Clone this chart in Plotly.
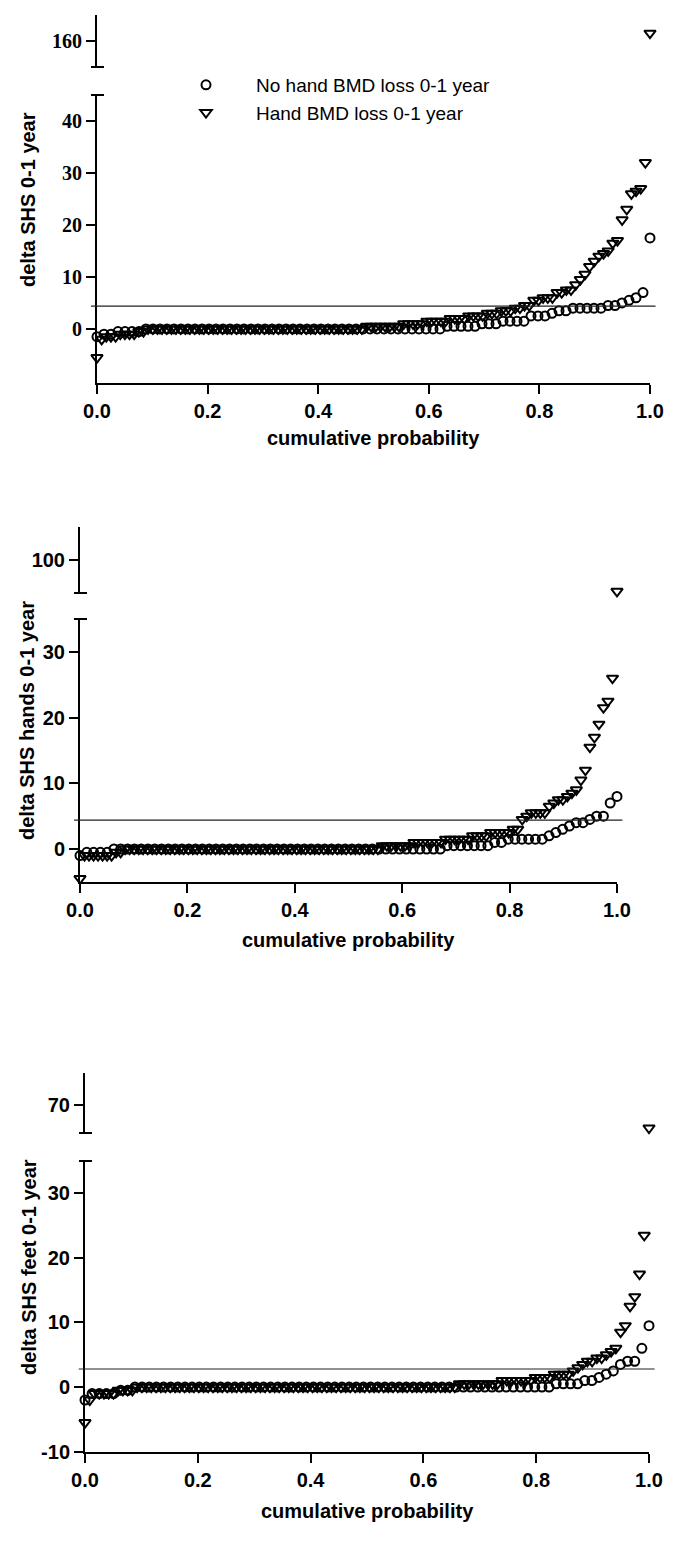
import plotly.graph_objects as go

# ---------------- data ----------------
prob_ticks = [0.0, 0.2, 0.4, 0.6, 0.8, 1.0]
prob_tick_labels = ["0.0", "0.2", "0.4", "0.6", "0.8", "1.0"]

series_names = ["No hand BMD loss 0-1 year", "Hand BMD loss 0-1 year"]

# Panel A: delta SHS 0-1 year (sorted values with their number of patients)
total_noloss_values = [-1.5, -1, -0.5, 0, 0.5, 1, 1.5, 2.5, 3, 3.5, 4, 4.5, 5, 5.5, 6, 7, 17.5]
total_noloss_counts = [1, 2, 4, 43, 5, 3, 4, 3, 1, 2, 5, 2, 1, 1, 1, 1, 1]
total_loss_values = [-5.5, -2, -1.5, -1, -0.5, 0, 0.5, 1, 1.5, 2, 2.5, 3, 3.5, 4, 4.5, 5.5, 6, 7, 7.5,
                     8.5, 9.5, 10.5, 12, 13, 14, 14.5, 15, 16.5, 17, 21, 23, 26, 26.5, 27, 32, 163]
total_loss_counts = [1, 1, 3, 4, 2, 47, 8, 5, 5, 4, 4, 3, 3, 2, 2, 2, 3, 2, 2,
                     1, 1, 1, 1, 1, 1, 1, 1, 1, 1, 1, 1, 1, 1, 1, 1, 1]
total_sdc = [4.4]

# Panel B: delta SHS hands 0-1 year
hands_noloss_values = [-1, -0.5, 0, 0.5, 1, 1.5, 2, 2.5, 3, 3.5, 4, 4.5, 5, 7, 8]
hands_noloss_counts = [1, 4, 49, 7, 2, 6, 1, 1, 1, 1, 2, 1, 2, 1, 1]
hands_loss_values = [-4.5, -1, -0.5, 0, 0.5, 1, 1.5, 2, 2.5, 3, 4.5, 5, 5.5, 6.5, 7, 7.5,
                     8, 8.5, 9, 10.5, 12, 15.5, 17, 19, 21.5, 22.5, 26, 81]
hands_loss_counts = [1, 7, 2, 57, 7, 7, 6, 4, 5, 2, 1, 1, 4, 1, 1, 2,
                     1, 1, 1, 1, 1, 1, 1, 1, 1, 1, 1, 1]
hands_sdc = [4.4]

# Panel C: delta SHS feet 0-1 year
feet_noloss_values = [-2, -1, -0.5, 0, 0.5, 1, 1.5, 2, 2.5, 3.5, 4, 6, 9.5]
feet_noloss_counts = [1, 4, 2, 59, 4, 2, 1, 1, 1, 1, 2, 1, 1]
feet_loss_values = [-5.5, -2, -1, -0.5, 0, 0.5, 1, 1.5, 2, 2.5, 3, 3.5, 4, 4.5, 5, 5.5, 6,
                    8.5, 9.5, 12.5, 14, 17.5, 23.5, 58.5]
feet_loss_counts = [1, 1, 5, 4, 68, 9, 7, 4, 4, 1, 1, 1, 2, 2, 1, 1, 1,
                    1, 1, 1, 1, 1, 1, 1]
feet_sdc = [2.8]

y_titles = ["delta SHS 0-1 year", "delta SHS hands 0-1 year", "delta SHS feet 0-1 year"]
x_title = "cumulative probability"

lower_ticks = [[0, 10, 20, 30, 40], [0, 10, 20, 30], [-10, 0, 10, 20, 30]]
upper_ticks = [[160], [100], [70]]

# ---------------- layout geometry ----------------
# the page body has an 8 px margin: the figure is placed at (8, 8)
OFF = 8
W, H = 685 - 2 * OFF, 1542 - 2 * OFF
def px_x(p):
    return (p - OFF) / W
def px_y(p):
    return 1 - (p - OFF) / H

panels = [
    dict(noloss=(total_noloss_values, total_noloss_counts), loss=(total_loss_values, total_loss_counts),
         sdc=total_sdc[0], xdom=(97, 650), low=(95, 383), up=(15, 67),
         lrange=[-10.4, 45], urange=[150, 170], ytick_family="Liberation Serif",
         ytitle_x=28, ytitle_y=200, xtitle_y=438),
    dict(noloss=(hands_noloss_values, hands_noloss_counts), loss=(hands_loss_values, hands_loss_counts),
         sdc=hands_sdc[0], xdom=(80, 617), low=(619, 882), up=(527, 593),
         lrange=[-5.02, 35], urange=[80, 120], ytick_family="Liberation Sans",
         ytitle_x=27, ytitle_y=721, xtitle_y=940),
    dict(noloss=(feet_noloss_values, feet_noloss_counts), loss=(feet_loss_values, feet_loss_counts),
         sdc=feet_sdc[0], xdom=(85, 649), low=(1161, 1452), up=(1073, 1133),
         lrange=[-10.05, 35], urange=[56, 86], ytick_family="Liberation Sans",
         ytitle_x=29, ytitle_y=1267, xtitle_y=1511),
]

def expand(values, counts):
    out = []
    for v, c in zip(values, counts):
        out.extend([v] * c)
    return out

fig = go.Figure()
layout = dict(width=W, height=H, margin=dict(l=0, r=0, t=0, b=0, pad=0, autoexpand=False),
              paper_bgcolor="white", plot_bgcolor="white", showlegend=True)
shapes = []
annotations = []

axis_style = dict(showline=True, linewidth=2, linecolor="black", ticks="outside",
                  ticklen=9, tickwidth=2, tickcolor="black", showgrid=False, zeroline=False,
                  fixedrange=True, automargin=False)

markers = {
    "noloss": dict(symbol="circle-open", size=9, color="black", line=dict(width=2, color="black")),
    "loss": dict(symbol="triangle-down-open", size=10, color="black", line=dict(width=2, color="black")),
}

for k, p in enumerate(panels):
    xn = "x" if k == 0 else f"x{k+1}"
    yl_n = f"y{2*k+1}" if k > 0 else "y"
    yu_n = f"y{2*k+2}"
    xkey = "xaxis" if k == 0 else f"xaxis{k+1}"
    ylkey = "yaxis" if k == 0 else f"yaxis{2*k+1}"
    yukey = f"yaxis{2*k+2}"

    layout[xkey] = dict(domain=[px_x(p["xdom"][0]), px_x(p["xdom"][1])], range=[0, 1],
                        anchor=yl_n, tickvals=prob_ticks, ticktext=prob_tick_labels,
                        tickfont=dict(family="Liberation Sans", size=20, color="black", weight="bold"),
                        **axis_style)
    layout[ylkey] = dict(domain=[px_y(p["low"][1]), px_y(p["low"][0])], range=p["lrange"],
                         anchor=xn, tickvals=lower_ticks[k], ticktext=[str(t) for t in lower_ticks[k]],
                         tickfont=dict(family=p["ytick_family"], size=20, color="black", weight="bold"),
                         **axis_style)
    layout[yukey] = dict(domain=[px_y(p["up"][1]), px_y(p["up"][0])], range=p["urange"],
                         anchor=xn, tickvals=upper_ticks[k], ticktext=[str(t) for t in upper_ticks[k]],
                         tickfont=dict(family=p["ytick_family"], size=20, color="black", weight="bold"),
                         **axis_style)

    for key, name in zip(["noloss", "loss"], series_names):
        vals = expand(*p[key])
        n = len(vals)
        xs = [i / (n - 1) for i in range(n)]
        top = p["lrange"][1]
        lx = [x for x, v in zip(xs, vals) if v <= top]
        ly = [v for v in vals if v <= top]
        ux = [x for x, v in zip(xs, vals) if v > top]
        uy = [v for v in vals if v > top]
        fig.add_trace(go.Scatter(x=lx, y=ly, mode="markers", marker=markers[key], name=name,
                                 legendgroup=key, showlegend=(k == 0), cliponaxis=False,
                                 xaxis=xn, yaxis=yl_n))
        if ux:
            fig.add_trace(go.Scatter(x=ux, y=uy, mode="markers", marker=markers[key], name=name,
                                     legendgroup=key, showlegend=False, cliponaxis=False,
                                     xaxis=xn, yaxis=yu_n))

    # threshold line
    shapes.append(dict(type="line", xref=f"{xn} domain", x0=-0.011, x1=1.01,
                       yref=yl_n, y0=p["sdc"], y1=p["sdc"], line=dict(color="#222", width=1.2)))
    # break caps
    for yref, yv in [(f"{yl_n} domain", 1), (f"{yu_n} domain", 0)]:
        shapes.append(dict(type="line", xref=f"{xn} domain", xsizemode="pixel", xanchor=0,
                           x0=-6, x1=7, yref=yref, y0=yv, y1=yv,
                           line=dict(color="black", width=2)))

    annotations.append(dict(text=y_titles[k], textangle=-90, xref="paper", yref="paper",
                            x=px_x(p["ytitle_x"]), y=px_y(p["ytitle_y"]), showarrow=False,
                            xanchor="center", yanchor="middle",
                            font=dict(family="Liberation Sans", size=20, color="black", weight="bold")))
    annotations.append(dict(text=x_title, xref=f"{xn} domain", yref="paper",
                            x=0.5, y=px_y(p["xtitle_y"]), showarrow=False,
                            xanchor="center", yanchor="middle",
                            font=dict(family="Liberation Sans", size=20, color="black", weight="bold")))

layout["shapes"] = shapes
layout["annotations"] = annotations
layout["legend"] = dict(x=px_x(156), y=px_y(66), xanchor="left", yanchor="top",
                        font=dict(family="Liberation Sans", size=19, color="black"),
                        bgcolor="rgba(0,0,0,0)", itemwidth=90, tracegroupgap=0)
fig.update_layout(**layout)
fig.write_html("out.html")
